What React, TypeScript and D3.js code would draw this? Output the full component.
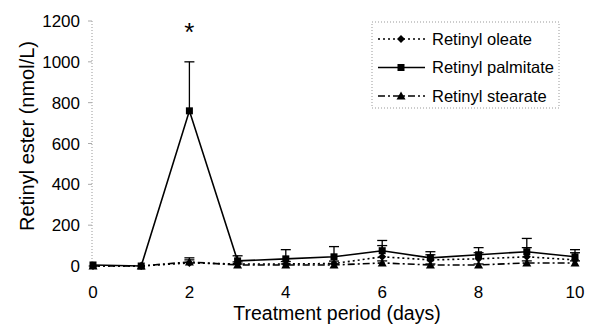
import React from "react";
import * as d3 from "d3";

const days = [0, 1, 2, 3, 4, 5, 6, 7, 8, 9, 10];
const oleate = [0, 0, 15, 10, 10, 12, 45, 30, 35, 45, 30];
const oleateErr = [0, 0, 25, 10, 12, 12, 55, 25, 30, 45, 35];
const palmitate = [5, 0, 760, 25, 35, 45, 75, 40, 55, 70, 45];
const palmitateErr = [0, 0, 240, 25, 45, 50, 50, 30, 35, 65, 35];
const stearate = [0, 0, 20, 5, 5, 5, 15, 5, 5, 15, 15];
const stearateErr = [0, 0, 10, 5, 5, 5, 10, 5, 5, 10, 10];
const yTicks = [0, 200, 400, 600, 800, 1000, 1200];
const xTicks = [0, 2, 4, 6, 8, 10];
const legendLabels = ["Retinyl oleate", "Retinyl palmitate", "Retinyl stearate"];

const W = 597, H = 329;
const x = d3.scaleLinear().domain([0, 10]).range([93, 575]);
const y = d3.scaleLinear().domain([0, 1200]).range([266, 21]);
const font = "'Liberation Sans', Arial, sans-serif";

type S = { vals: number[]; err: number[]; dash: string; marker: string };
const series: S[] = [
  { vals: oleate, err: oleateErr, dash: "2,3", marker: "diamond" },
  { vals: palmitate, err: palmitateErr, dash: "", marker: "square" },
  { vals: stearate, err: stearateErr, dash: "7,3,2,3", marker: "triangle" },
];

function Marker({ kind, cx, cy }: { kind: string; cx: number; cy: number }) {
  if (kind === "square") return <rect x={cx - 3.5} y={cy - 3.5} width={7} height={7} fill="#000" />;
  if (kind === "diamond")
    return <path d={`M${cx},${cy - 4}L${cx + 4},${cy}L${cx},${cy + 4}L${cx - 4},${cy}Z`} fill="#000" />;
  return <path d={`M${cx},${cy - 4.5}L${cx + 4.5},${cy + 3.5}L${cx - 4.5},${cy + 3.5}Z`} fill="#000" />;
}

export default function App() {
  const line = d3
    .line<number>()
    .x((_, i) => x(days[i]))
    .y((v) => y(v));
  return (
    <svg width={W} height={H} style={{ position: "absolute", left: 0, top: 0, background: "#fff" }}>
      {/* y axis */}
      <line x1={x(0) - 1} x2={x(0) - 1} y1={y(1200)} y2={y(0)} stroke="#999" strokeDasharray="1,2" />
      {yTicks.map((t) => (
        <g key={t}>
          <line x1={x(0) - 5} x2={x(0) - 1} y1={y(t)} y2={y(t)} stroke="#aaa" />
          <text x={80} y={y(t)} dy="0.36em" textAnchor="end" fontFamily={font} fontSize={17}>
            {t}
          </text>
        </g>
      ))}
      {xTicks.map((t) => (
        <text key={t} x={x(t)} y={291.5} dy="0.36em" textAnchor="middle" fontFamily={font} fontSize={17}>
          {t}
        </text>
      ))}
      <text x={337} y={320} textAnchor="middle" fontFamily={font} fontSize={19.5}>
        Treatment period (days)
      </text>
      <text
        transform={`translate(27,136) rotate(-90)`}
        dy="0.36em"
        textAnchor="middle"
        fontFamily={font}
        fontSize={20}
      >
        Retinyl ester (nmol/L)
      </text>
      {/* error bars */}
      {series.map((s, si) =>
        s.vals.map((v, i) =>
          s.err[i] > 0 ? (
            <g key={`e${si}-${i}`} stroke="#000" strokeWidth={1.3}>
              <line x1={x(days[i])} x2={x(days[i])} y1={y(v)} y2={y(v + s.err[i])} />
              <line x1={x(days[i]) - 5} x2={x(days[i]) + 5} y1={y(v + s.err[i])} y2={y(v + s.err[i])} />
            </g>
          ) : null
        )
      )}
      {series.map((s, si) => (
        <path
          key={`l${si}`}
          d={line(s.vals) || ""}
          fill="none"
          stroke="#000"
          strokeWidth={1.6}
          strokeDasharray={s.dash}
        />
      ))}
      {series.map((s, si) =>
        s.vals.map((v, i) => <Marker key={`m${si}-${i}`} kind={s.marker} cx={x(days[i])} cy={y(v)} />)
      )}
      <text x={x(2)} y={41} textAnchor="middle" fontFamily={font} fontSize={26}>
        *
      </text>
      {/* legend */}
      <rect x={372} y={22} width={187} height={86} fill="#fff" stroke="#999" strokeDasharray="1,2" />
      {series.map((s, i) => {
        const ly = 39 + i * 28.5;
        return (
          <g key={`lg${i}`}>
            <line x1={378} x2={425} y1={ly} y2={ly} stroke="#000" strokeWidth={1.6} strokeDasharray={s.dash} />
            <Marker kind={s.marker} cx={401} cy={ly} />
            <text x={432} y={ly} dy="0.36em" fontFamily={font} fontSize={16.5}>
              {legendLabels[i]}
            </text>
          </g>
        );
      })}
    </svg>
  );
}
